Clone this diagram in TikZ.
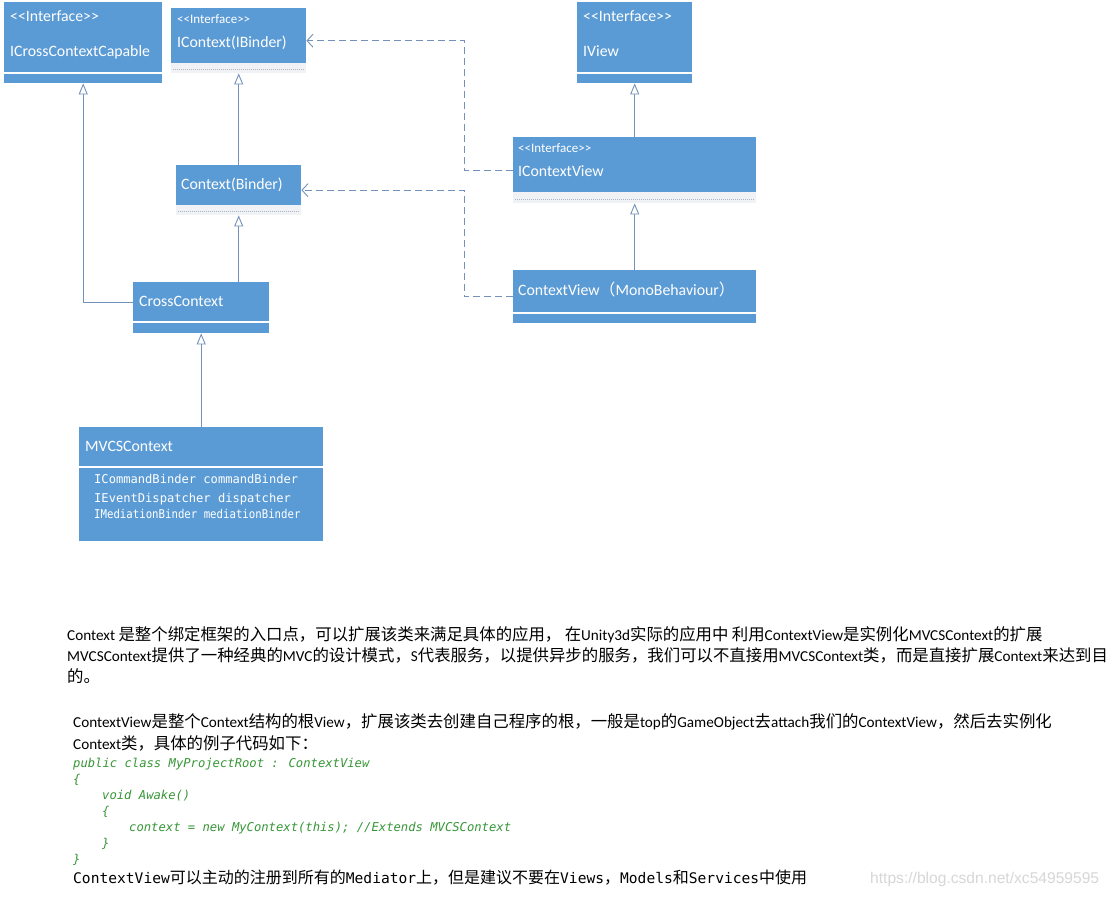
\documentclass[tikz,border=0pt]{standalone}
\usepackage{fontspec}
\setmainfont{Carlito}
\newfontfamily\cjk{Noto Sans CJK SC}
\newfontfamily\mono{DejaVu Sans Mono}
\newfontfamily\wmfont{Liberation Sans}
\usetikzlibrary{arrows.meta,calc}
\newcommand\zhd[1]{{\cjk #1}}
\newcommand\zhsz{16.4}
\newcommand\zh[1]{{\fontsize{\zhsz}{18}\selectfont\cjk #1}}
\newcommand\intf{\textless\kern0pt\textless\kern0pt Interface\kern0pt\textgreater\kern0pt\textgreater}
\newcommand\mn[1]{{\mono\fontsize{14.6}{16}\selectfont #1}}
\definecolor{boxblue}{RGB}{91,155,213}
\definecolor{lnk}{RGB}{115,145,185}
\definecolor{codegreen}{RGB}{55,150,55}
\definecolor{lightcomp}{RGB}{240,242,246}
\definecolor{dotc}{RGB}{170,180,195}
\definecolor{wmc}{RGB}{215,215,215}
\tikzset{
  bluebox/.style={fill=boxblue, inner sep=0pt, anchor=north west},
  lightbox/.style={fill=lightcomp, inner sep=0pt, anchor=north west},
  sepline/.style={draw=white, line width=1.6pt},
  dotline/.style={draw=dotc, line width=0.8pt, dash pattern=on 1pt off 1pt},
  big/.style={text=white, inner sep=0pt, anchor=mid west, font=\fontsize{15.8}{18}\selectfont},
  small/.style={text=white, inner sep=0pt, anchor=mid west, font=\fontsize{13}{15}\selectfont},
  field/.style={text=white, inner sep=0pt, anchor=mid west, font=\fontsize{12.1}{14}\selectfont\mono},
  para/.style={text=black, inner sep=0pt, anchor=mid west, font=\fontsize{15.2}{17}\selectfont},
  code/.style={text=codegreen, inner sep=0pt, anchor=mid west, font=\fontsize{12.2}{14}\selectfont\mono\itshape},
  inh/.style={draw=lnk, line width=0.9pt, -{Triangle[length=11pt,width=9pt,fill=white]}},
  dep/.style={draw=lnk, line width=0.9pt, dash pattern=on 7pt off 4pt, -{Straight Barb[length=6pt,width=13pt]}},
}
\begin{document}
\begin{tikzpicture}[x=1pt,y=-1pt]
\useasboundingbox (0,0) rectangle (1111,897);
\fill[white] (0,0) rectangle (1111,897);

% ICrossContextCapable
\node[bluebox, minimum width=158pt, minimum height=81pt] (icc) at (4,2) {};
\draw[sepline] (4,73) -- (162,73);
\node[big] (icc1) at (10,19) {\intf};
\node[big] (icc2) at (10,54.5) {ICrossContextCapable};

% IContext(IBinder)
\node[lightbox, minimum width=135pt, minimum height=65pt] (ic) at (171,8) {};
\fill[boxblue] (171,8) rectangle (306,63);
\draw[dotline] (173,69) -- (304,69);
\node[small] (ic1) at (177,21.5) {\intf};
\node[big] (ic2) at (177,45.5) {IContext(IBinder)};

% IView
\node[bluebox, minimum width=115pt, minimum height=81pt] (iv) at (577,2) {};
\draw[sepline] (577,73) -- (692,73);
\node[big] (iv1) at (583,19) {\intf};
\node[big] (iv2) at (583,54.5) {IView};

% Context(Binder)
\node[lightbox, minimum width=125pt, minimum height=50pt] (cb) at (176,165) {};
\fill[boxblue] (176,165) rectangle (301,205);
\draw[dotline] (178,211) -- (299,211);
\node[big] (cb1) at (181,187.5) {Context(Binder)};

% IContextView
\node[lightbox, minimum width=243pt, minimum height=66pt] (icv) at (513,137) {};
\fill[boxblue] (513,137) rectangle (756,192);
\draw[dotline] (515,199) -- (754,199);
\node[small] (icv1) at (518,150.5) {\intf};
\node[big] (icv2) at (518,174.5) {IContextView};

% ContextView (MonoBehaviour)
\node[bluebox, minimum width=243pt, minimum height=53pt] (cv) at (513,270) {};
\draw[sepline] (513,313) -- (756,313);
\node[big] (cv1) at (518,293.5) {ContextView\zhd{（}MonoBehaviour\zhd{）}};

% CrossContext
\node[bluebox, minimum width=136pt, minimum height=51pt] (cc) at (133,282) {};
\draw[sepline] (133,322) -- (269,322);
\node[big] (cc1) at (139,304.5) {CrossContext};

% MVCSContext
\node[bluebox, minimum width=244pt, minimum height=114pt] (mv) at (79,427) {};
\draw[sepline] (79,467) -- (323,467);
\node[big] (mv1) at (85,449.5) {MVCSContext};
\node[field] (mv2) at (94,481) {ICommandBinder commandBinder};
\node[field] (mv3) at (94,500) {IEventDispatcher dispatcher};
\node[field] (mv4) at (94,516) {\scalebox{0.885}[1]{IMediationBinder mediationBinder}};

% connectors
\coordinate (j1) at (464,0);
\draw[inh] ($(cc.north west)+(0,20)$) -| (icc.south);
\draw[inh] (cb.north) -- (ic.south);
\draw[inh] (cb.south |- cc.north) -- (cb.south);
\draw[inh] (mv.north) -- (cc.south);
\draw[inh] (icv.north) -- (iv.south);
\draw[inh] (cv.north) -- (icv.south);
\draw[dep] (icv.west) -- (icv.west -| j1) |- (ic.east);
\draw[dep] (cv.west) -- (cv.west -| j1) |- (cb.east);

% paragraph 1
\node[para] (p1) at (67,638.5) {Context \zh{是整个绑定框架的入口点，可以扩展该类来满足具体的应用，} \zh{在}Unity3d\zh{实际的应用中} \zh{利用}ContextView\zh{是实例化}MVCSContext\zh{的扩展}};
\node[para] (p2) at (67,659.5) {MVCSContext\zh{提供了一种经典的}MVC\zh{的设计模式，}S\zh{代表服务，以提供异步的服务，我们可以不直接用}MVCSContext\zh{类，而是直接扩展}Context\zh{来达到目}};
\node[para] (p3) at (67,680.5) {\zh{的。}};

% paragraph 2
\node[para] (q1) at (73,725.5) {ContextView\zh{是整个}Context\zh{结构的根}View\zh{，扩展该类去创建自己程序的根，一般是}top\zh{的}GameObject\zh{去}attach\zh{我们的}ContextView\zh{，然后去实例化}};
\node[para] (q2) at (73,747.5) {Context\zh{类，具体的例子代码如下：}};
\node[code] (c1) at (73,765) {public class MyProjectRoot : ContextView};
\node[code] (c2) at (73,781) {\{};
\node[code] (c3) at (102,797) {void Awake()};
\node[code] (c4) at (102,813) {\{};
\node[code] (c5) at (129,829) {context = new MyContext(this); //Extends MVCSContext};
\node[code] (c6) at (102,845) {\}};
\node[code] (c7) at (73,861) {\}};
\renewcommand\zhsz{16}
\node[para] (q3) at (73,881) {\mn{ContextView}\zh{可以主动的注册到所有的}\mn{Mediator}\zh{上，但是建议不要在}\mn{Views}\zh{，}\mn{Models}\zh{和}\mn{Services}\zh{中使用}};
\node[text=wmc, inner sep=0pt, anchor=mid west, font=\fontsize{15.6}{17}\selectfont\wmfont] (wm) at (870,881) {https://blog.csdn.net/xc54959595};
\end{tikzpicture}
\end{document}
